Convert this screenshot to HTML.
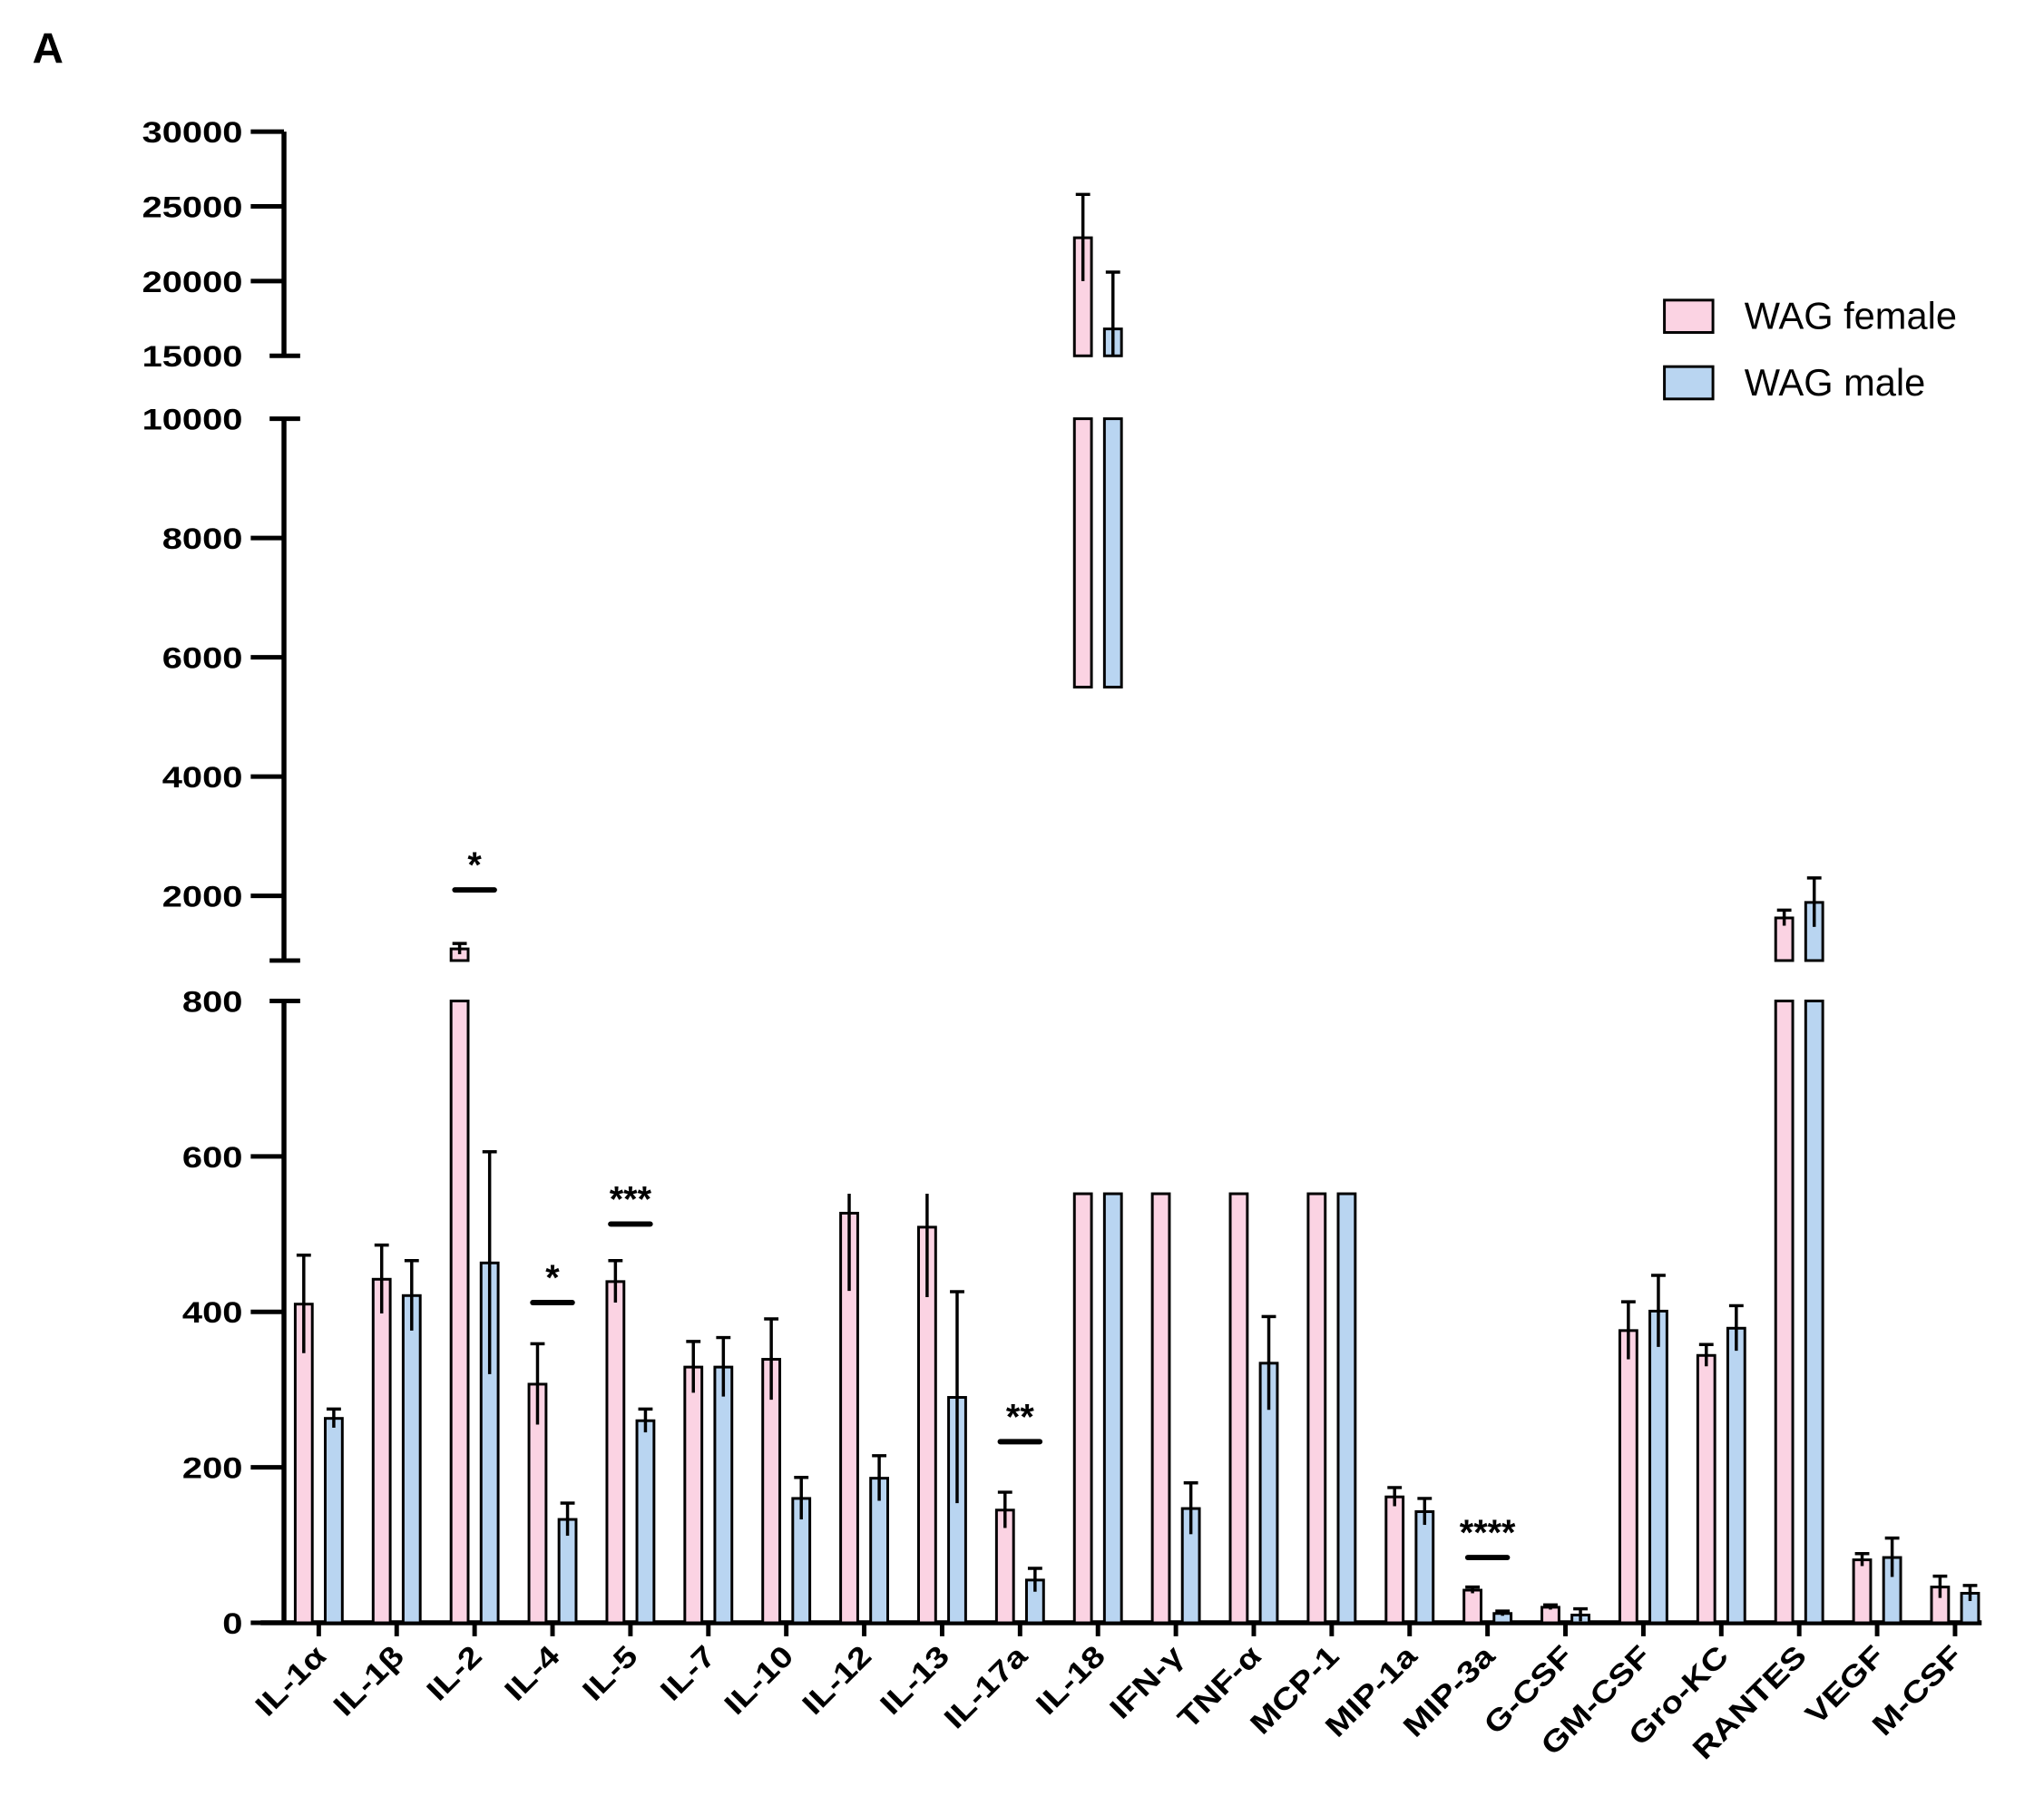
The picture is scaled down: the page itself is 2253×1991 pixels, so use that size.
<!DOCTYPE html>
<html><head><meta charset="utf-8"><style>
body{margin:0;background:#fff}
svg text{font-family:"Liberation Sans",Arial,sans-serif}
</style></head><body>
<svg id="chart" width="2253" height="1986" viewBox="0 0 2253 1986" xmlns="http://www.w3.org/2000/svg">
<g transform="scale(0.9906)">
<text x="36" y="70" font-size="48" font-weight="bold">A</text>
<g id="axes"></g><g id="bars"></g><g id="sig"></g>
<g>
<rect x="1852" y="334" width="54" height="36" fill="#fbd3e3" stroke="#000" stroke-width="3"/>
<text x="1941" y="366" font-size="42">WAG female</text>
<rect x="1852" y="408" width="54" height="36" fill="#b9d5f1" stroke="#000" stroke-width="3"/>
<text x="1941" y="440" font-size="42">WAG male</text>
</g>
</g>
</svg>
<script>
const categories=["IL-1α","IL-1β","IL-2","IL-4","IL-5","IL-7","IL-10","IL-12","IL-13","IL-17a","IL-18","IFN-γ","TNF-α","MCP-1","MIP-1a","MIP-3a","G-CSF","GM-CSF","Gro-KC","RANTES","VEGF","M-CSF"];
const femaleVals=[410,442,1111,307,439,329,339,527,509,145,22900,700,700,700,162,42,20,376,344,1630,81,46];
const femaleErr=[63,44,90,52,27,33,52,100,90,23,2900,0,0,0,12,4,3,37,14,130,8,14];
const maleVals=[263,421,463,133,260,329,160,186,290,55,16800,147,334,700,143,12,10,401,379,1890,84,38];
const maleErr=[12,45,143,21,15,38,27,29,136,15,3800,33,60,0,17,3,8,46,29,410,25,10];
const lowTicks=[0,200,400,600,800];
const midTicks=[2000,4000,6000,8000,10000];
const highTicks=[15000,20000,25000,30000];
const sigCats=["IL-2","IL-4","IL-5","IL-17a","MIP-3a"];
const sigLabels=["*","*","***","**","****"];
const sigVals=[2100,412,513,233,84];

const NS="http://www.w3.org/2000/svg";
function mk(tag,attrs,parent,txt){const e=document.createElementNS(NS,tag);for(const k in attrs)e.setAttribute(k,attrs[k]);if(txt!==undefined)e.textContent=txt;parent.appendChild(e);return e;}
const yLow=v=>1806-(v/800)*692;
const yMid=v=>997-(v-2000)/8000*531;
const yHigh=v=>396-(v-15000)/15000*249.5;
const MID_MIN=2000-(1069-997)/531*8000;
function yAny(v){if(v<=800)return yLow(v);if(v<=10000)return yMid(v);return yHigh(v);}
function segOf(v){return v<=800?'low':(v<=10000?'mid':'high');}
const xC=i=>354.7+i*86.7;
const AX=316;
const axes=document.getElementById('axes');
function line(x1,y1,x2,y2,w,parent,name){const l=mk('line',{x1,y1,x2,y2,stroke:'#000','stroke-width':w},parent);return l;}
line(AX,yLow(0),AX,yLow(800),5.5,axes,'y-axis-lower');
line(AX,yMid(MID_MIN),AX,yMid(10000),5.5,axes,'y-axis-middle');
line(AX,yHigh(15000),AX,yHigh(30000),5.5,axes,'y-axis-upper');
line(300,yLow(800),334,yLow(800),5,axes,'break-cap');
line(300,1069,334,1069,5,axes,'break-cap');
line(300,yMid(10000),334,yMid(10000),5,axes,'break-cap');
line(300,yHigh(15000),334,yHigh(15000),5,axes,'break-cap');
function tick(y,lbl,withTick){
  if(withTick)line(279,y,AX,y,5,axes,'y-tick');
  const t=mk('text',{x:0,y:0,'font-size':33,'font-weight':'bold','text-anchor':'end',transform:`translate(270,${y+12}) scale(1.22,1)`},axes,lbl);
  
}
lowTicks.forEach(v=>tick(yLow(v),v,v!==800));
midTicks.forEach(v=>tick(yMid(v),v,v!==10000));
highTicks.forEach(v=>tick(yHigh(v),v,v!==15000));
line(290,yLow(0),2205,yLow(0),5.5,axes,'x-axis');
categories.forEach((c,i)=>{
  line(xC(i),yLow(0),xC(i),1821,5,axes,'x-tick');
  const t=mk('text',{x:0,y:0,'font-size':33,'font-weight':'bold','text-anchor':'end',transform:`translate(${xC(i)+10},${1845}) rotate(-45) scale(1.2,1)`},axes,c);
  
});
const bars=document.getElementById('bars');
const BW=19;
function rect(x,y1,y2,fill,name){const r=mk('rect',{x:x-BW/2,y:Math.min(y1,y2),width:BW,height:Math.abs(y2-y1),fill,stroke:'#000','stroke-width':3},bars);}
function drawBar(x,v,e,fill,name){
  let lowTop=v>800&&v<=10000?800:(v>550?552:v);
  rect(x,yLow(0),yLow(lowTop),fill,name);
  if(v>=MID_MIN){const b=v>10000?5500:MID_MIN;rect(x,yMid(b),yMid(Math.min(v,10000)),fill,name+'-mid');}
  if(v>15000)rect(x,yHigh(15000),yHigh(v),fill,name+'-upper');
  if(e>0){
    let top=v+e,bot=v-e;
    const s=segOf(v);
    if(s==='high'&&bot<15000)bot=15000;
    if(s==='mid'&&bot<MID_MIN)bot=MID_MIN;
    let capped=true;
    if(s==='low'&&top>550&&v>500){top=552;capped=false;}
    line(x,yAny(bot),x,yAny(top),3.5,bars,'error-bar');
    if(capped)line(x-8,yAny(top),x+8,yAny(top),3.5,bars,'error-cap');
  }
}
categories.forEach((c,i)=>{
  drawBar(xC(i)-16.7,femaleVals[i],femaleErr[i],'#fbd3e3','bar-female-'+c);
  drawBar(xC(i)+16.7,maleVals[i],maleErr[i],'#b9d5f1','bar-male-'+c);
});
const sig=document.getElementById('sig');
sigCats.forEach((c,i)=>{
  const x=xC(categories.indexOf(c));const y=yAny(sigVals[i]);
  const l=mk('line',{x1:x-22,y1:y,x2:x+22,y2:y,stroke:'#000','stroke-width':6,'stroke-linecap':'round'},sig);
  
  const t=mk('text',{x:x,y:y-14,'font-size':40,'font-weight':'bold','text-anchor':'middle'},sig,sigLabels[i]);
  
});
</script>
</body></html>
